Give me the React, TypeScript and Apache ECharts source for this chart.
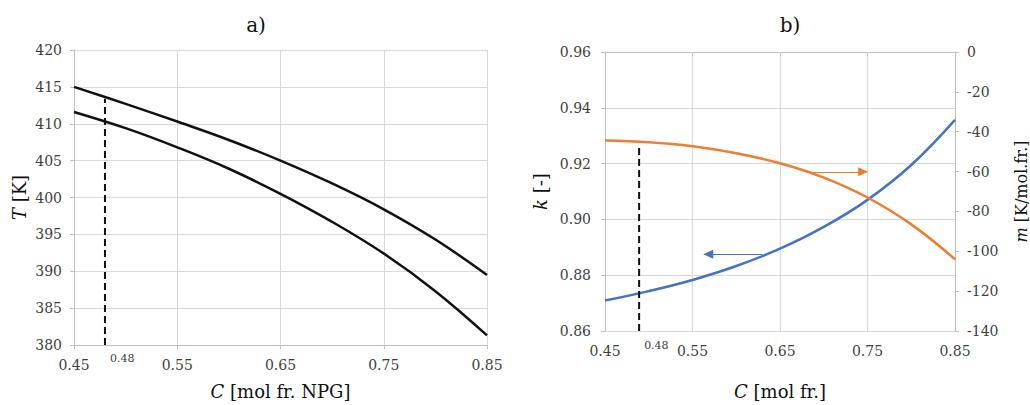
import React, { useEffect, useRef } from "react";
import * as echarts from "echarts";

// Shared x values (C, mol fraction)
const cValues = [0.45, 0.5, 0.55, 0.6, 0.65, 0.7, 0.75, 0.8, 0.85];
const xTicks = [0.45, 0.55, 0.65, 0.75, 0.85];

// Chart a): temperatures [K]
const tUpper = [415.0, 412.7, 410.3, 407.8, 405.0, 401.9, 398.4, 394.3, 389.5];
const tLower = [411.6, 409.4, 406.8, 403.9, 400.5, 396.7, 392.4, 387.3, 381.3];
const markerA = 0.48;
const markerATop = 413.4;

// Chart b): k [-] (left axis) and m [K/mol.fr.] (right axis)
const kValues = [0.8709, 0.8743, 0.8783, 0.8833, 0.8895, 0.8973, 0.907, 0.9195, 0.9357];
const mValues = [-44.4, -45.3, -47.3, -50.8, -55.8, -63.0, -73.0, -86.5, -104.0];
const markerB = 0.489;
const markerBTop = 0.927;
const markerLabel = "0.48";
const orangeArrow = { from: 0.681, to: 0.745, m: -60.1 };
const blueArrow = { from: 0.63, to: 0.568, k: 0.8875 };

const FONT = "DejaVu Serif";
const GRID = "#d9d9d9";
const AXIS = "#bfbfbf";
const LABEL = "#404040";
const ORANGE = "#ED7D31";
const BLUE = "#4472C4";

const pair = (xs: number[], ys: number[]) => xs.map((x, i) => [x, ys[i]]);

export default function App() {
  const ref = useRef<HTMLDivElement>(null);
  useEffect(() => {
    if (!ref.current) return;
    const chart = echarts.init(ref.current, undefined, { renderer: "svg" });

    const nameStyle = (size: number) => ({
      fontFamily: FONT,
      fontSize: size,
      color: "#111",
      rich: {
        i: { fontFamily: FONT, fontSize: size, fontStyle: "italic", color: "#111" },
        n: { fontFamily: FONT, fontSize: size, color: "#111" },
      },
    });

    const xAxisBase = (gridIndex: number, name: string, nameGap: number, labelMargin: number) => ({
      type: "value",
      gridIndex,
      min: 0.45,
      max: 0.85,
      name,
      nameLocation: "middle",
      nameGap,
      nameTextStyle: nameStyle(18),
      axisLine: { show: true, lineStyle: { color: AXIS, width: 1 } },
      axisTick: { show: true, length: 4, customValues: xTicks, lineStyle: { color: AXIS } },
      axisLabel: {
        customValues: xTicks,
        margin: labelMargin,
        fontFamily: FONT,
        fontSize: 14,
        color: LABEL,
        formatter: (v: number) => v.toFixed(2),
      },
      splitLine: { show: true, lineStyle: { color: GRID, width: 1 } },
    });

    const yLabel = { fontFamily: FONT, fontSize: 14, color: LABEL };

    const option: any = {
      animation: false,
      backgroundColor: "#ffffff",
      textStyle: { fontFamily: FONT },
      graphic: [
        { type: "text", x: 256, y: 25, style: { text: "a)", font: `20px ${FONT}`, fill: "#111", align: "center", verticalAlign: "middle" } },
        { type: "text", x: 790, y: 25, style: { text: "b)", font: `20px ${FONT}`, fill: "#111", align: "center", verticalAlign: "middle" } },
      ],
      grid: [
        { left: 74, top: 50, width: 413, height: 302 },
        { left: 605, top: 52, width: 359, height: 286 },
      ],
      xAxis: [
        xAxisBase(0, "{i|C}{n| [mol fr. NPG]}", 37, 13),
        xAxisBase(1, "{i|C}{n| [mol fr.]}", 51, 13),
      ],
      yAxis: [
        {
          type: "value",
          gridIndex: 0,
          min: 380,
          max: 420,
          interval: 5,
          name: "{i|T}{n| [K]}",
          nameLocation: "middle",
          nameGap: 46,
          nameRotate: 90,
          nameTextStyle: nameStyle(18),
          axisLine: { show: true, lineStyle: { color: AXIS } },
          axisTick: { show: true, length: 4, lineStyle: { color: AXIS } },
          axisLabel: { ...yLabel, margin: 12 },
          splitLine: { show: true, lineStyle: { color: GRID } },
        },
        {
          type: "value",
          gridIndex: 1,
          position: "left",
          min: 0.86,
          max: 0.96,
          interval: 0.02,
          name: "{i|k}{n| [-]}",
          nameLocation: "middle",
          nameGap: 56,
          nameRotate: 90,
          nameTextStyle: nameStyle(18),
          axisLine: { show: true, lineStyle: { color: AXIS } },
          axisTick: { show: true, length: 4, lineStyle: { color: AXIS } },
          axisLabel: { ...yLabel, margin: 14, formatter: (v: number) => v.toFixed(2) },
          splitLine: { show: true, lineStyle: { color: GRID } },
        },
        {
          type: "value",
          gridIndex: 1,
          position: "right",
          min: -140,
          max: 0,
          interval: 20,
          name: "{i|m}{n| [K/mol.fr.]}",
          nameLocation: "middle",
          nameGap: 58,
          nameRotate: 90,
          nameTextStyle: nameStyle(16),
          axisLine: { show: true, lineStyle: { color: AXIS } },
          axisTick: { show: true, length: 4, lineStyle: { color: AXIS } },
          axisLabel: { ...yLabel, margin: 12 },
          splitLine: { show: false },
        },
      ],
      series: [
        {
          type: "line",
          xAxisIndex: 0,
          yAxisIndex: 0,
          data: pair(cValues, tUpper),
          smooth: 0.4,
          showSymbol: false,
          lineStyle: { color: "#111", width: 2.5 },
        },
        {
          type: "line",
          xAxisIndex: 0,
          yAxisIndex: 0,
          data: pair(cValues, tLower),
          smooth: 0.4,
          showSymbol: false,
          lineStyle: { color: "#111", width: 2.5 },
        },
        {
          type: "line",
          xAxisIndex: 0,
          yAxisIndex: 0,
          data: [
            [markerA, 380],
            [markerA, markerATop],
          ],
          symbol: "none",
          lineStyle: { color: "#111", width: 2, type: [7, 4] },
        },
        {
          type: "line",
          xAxisIndex: 1,
          yAxisIndex: 1,
          data: pair(cValues, kValues),
          smooth: 0.4,
          showSymbol: false,
          lineStyle: { color: BLUE, width: 2.5 },
          markLine: {
            silent: true,
            symbol: ["none", "triangle"],
            symbolSize: [9, 10],
            label: { show: false },
            lineStyle: { color: BLUE, width: 1, type: "solid" },
            data: [[{ coord: [blueArrow.from, blueArrow.k] }, { coord: [blueArrow.to, blueArrow.k] }]],
          },
        },
        {
          type: "line",
          xAxisIndex: 1,
          yAxisIndex: 2,
          data: pair(cValues, mValues),
          smooth: 0.4,
          showSymbol: false,
          lineStyle: { color: ORANGE, width: 2.5 },
          markLine: {
            silent: true,
            symbol: ["none", "triangle"],
            symbolSize: [9, 10],
            label: { show: false },
            lineStyle: { color: ORANGE, width: 1, type: "solid" },
            data: [[{ coord: [orangeArrow.from, orangeArrow.m] }, { coord: [orangeArrow.to, orangeArrow.m] }]],
          },
        },
        {
          type: "line",
          xAxisIndex: 1,
          yAxisIndex: 1,
          data: [
            [markerB, 0.86],
            [markerB, markerBTop],
          ],
          symbol: "none",
          lineStyle: { color: "#111", width: 2, type: [7, 4] },
        },
      ],
    };
    chart.setOption(option);

    // Small "0.48" labels placed next to the dashed marker lines, via the axes' own scales
    const pa = chart.convertToPixel({ gridIndex: 0 }, [markerA, 380]) as number[];
    const pb = chart.convertToPixel({ gridIndex: 1 }, [markerB, 0.86]) as number[];
    chart.setOption({
      graphic: [
        option.graphic[0],
        option.graphic[1],
        { type: "text", x: pa[0] + 5, y: pa[1] + 13, style: { text: markerLabel, font: `11px ${FONT}`, fill: LABEL, align: "left", verticalAlign: "middle" } },
        { type: "text", x: pb[0] + 5, y: pb[1] + 14, style: { text: markerLabel, font: `11px ${FONT}`, fill: LABEL, align: "left", verticalAlign: "middle" } },
      ],
    });
    return () => chart.dispose();
  }, []);
  return (
    <div
      ref={ref}
      style={{ position: "fixed", left: 0, top: 0, width: 1030, height: 405, background: "#fff" }}
    />
  );
}
